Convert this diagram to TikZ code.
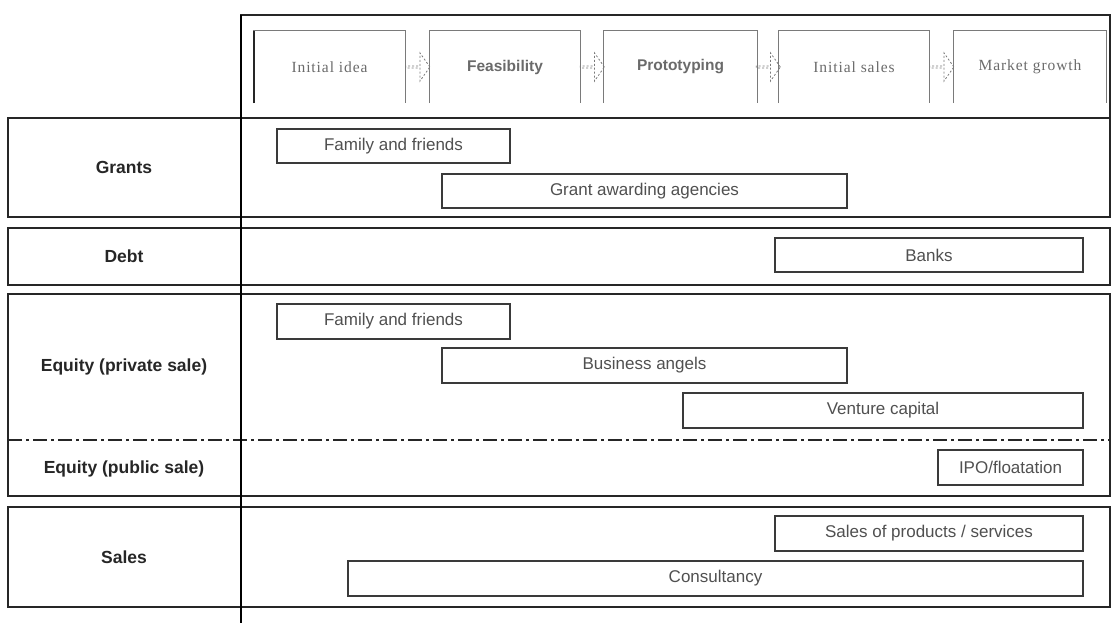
\documentclass[tikz,border=0pt]{standalone}
\usepackage{fontspec}
\setmainfont{Liberation Sans}
\newfontfamily\stageserif[LetterSpace=6]{Liberation Serif}
\usetikzlibrary{shapes.arrows,calc}
\definecolor{barline}{HTML}{3A3A3A}
\definecolor{bartext}{HTML}{505050}
\definecolor{stagetext}{HTML}{6A6A6A}
\definecolor{stageline}{HTML}{7A7A7A}
\newcommand\barbox[6]{\node[barstyle, minimum width={#4-#2}, minimum height={#5-#3}] (#1) at ({(#2+#4)/2},{(#3+#5)/2}) {#6};}
\newcommand\stagenode[4]{\node[stagestyle, minimum width=#3] (#1) at (#2,67) {#4};
  \draw[stageline] (#1.south west) |- (#1.north east) -- (#1.south east);}
\begin{document}
\begin{tikzpicture}[x=1pt,y=-1pt,
  barstyle/.style={draw=barline, line width=1.3pt, fill=white, inner sep=0pt,
    font=\fontsize{17}{19}\selectfont, text=bartext},
  rowbox/.style={draw=black!85, line width=1.5pt, minimum width=1102, inner sep=0pt},
  rowlabel/.style={font=\bfseries\fontsize{17.5}{19}\selectfont, text=black!85},
  stagestyle/.style={minimum height=72, inner sep=0pt, text=stagetext},
  stageline/.style={draw=stageline, line width=1.2pt},
  stagearrow/.style={shape=single arrow, draw=stageline, dash pattern=on 2pt off 2pt,
    line width=0.8pt, minimum height=24, minimum width=28, single arrow head extend=5.5pt,
    single arrow tip angle=110, inner sep=0pt}
]
\useasboundingbox (0,0) rectangle (1113,623);

% header
\node[draw=black!85, line width=1.5pt, minimum width=869, minimum height=103, inner sep=0pt] (header) at (675.5,66.5) {};
\stagenode{s1}{329.5}{151}{\stageserif\fontsize{15.5}{17}\selectfont Initial idea}
\stagenode{s2}{505}{150}{\bfseries\fontsize{15.5}{17}\selectfont Feasibility}
\stagenode{s3}{680.5}{153}{\bfseries\fontsize{15.5}{17}\selectfont Prototyping}
\stagenode{s4}{854}{150}{\stageserif\fontsize{15.5}{17}\selectfont Initial sales}
\stagenode{s5}{1030}{152}{\stageserif\fontsize{15.5}{17}\selectfont Market growth}
\draw[black!85, line width=1.8pt] (s1.south west) -- (s1.north west);
\node[stagearrow] (a1) at ($(s1.east)!0.5!(s2.west)$) {};
\node[stagearrow] (a2) at ($(s2.east)!0.5!(s3.west)$) {};
\node[stagearrow] (a3) at ($(s3.east)!0.5!(s4.west)$) {};
\node[stagearrow] (a4) at ($(s4.east)!0.5!(s5.west)$) {};

% rows
\node[rowbox, minimum height=99] (grants) at (559,167.5) {};
\node[rowbox, minimum height=57] (debt) at (559,256.5) {};
\node[rowbox, minimum height=202] (equity) at (559,395) {};
\node[rowbox, minimum height=100] (sales) at (559,557) {};
\coordinate (dl) at (8,440);
\coordinate (dr) at (1110,440);
\draw[black!85, line width=1.5pt, dash pattern=on 14pt off 4pt on 3pt off 4pt] (dl) -- (dr);

% thick column line
\coordinate (vtop) at (241,15);
\coordinate (vbot) at (241,623);
\draw[black, line width=2.6pt] (vtop) -- (vbot);

% row labels
\node[rowlabel] (lgrants) at (124,167) {Grants};
\node[rowlabel] (ldebt) at (124,256) {Debt};
\node[rowlabel] (lpriv) at (124,367) {Equity (private sale)};
\node[rowlabel] (lpub) at (124,469) {Equity (public sale)};
\node[rowlabel] (lsales) at (124,557) {Sales};

% bars
\barbox{gff}{277}{129}{510}{163}{Family and friends}
\barbox{gaa}{442}{174}{847}{208}{Grant awarding agencies}
\barbox{banks}{775}{238}{1083}{272}{Banks}
\barbox{eff}{277}{304}{510}{339}{Family and friends}
\barbox{ba}{442}{348}{847}{383}{Business angels}
\barbox{vc}{683}{393}{1083}{428}{Venture capital}
\barbox{ipo}{938}{450}{1083}{485}{IPO/floatation}
\barbox{sps}{775}{516}{1083}{551}{Sales of products / services}
\barbox{cons}{348}{561}{1083}{596}{Consultancy}
\end{tikzpicture}
\end{document}
